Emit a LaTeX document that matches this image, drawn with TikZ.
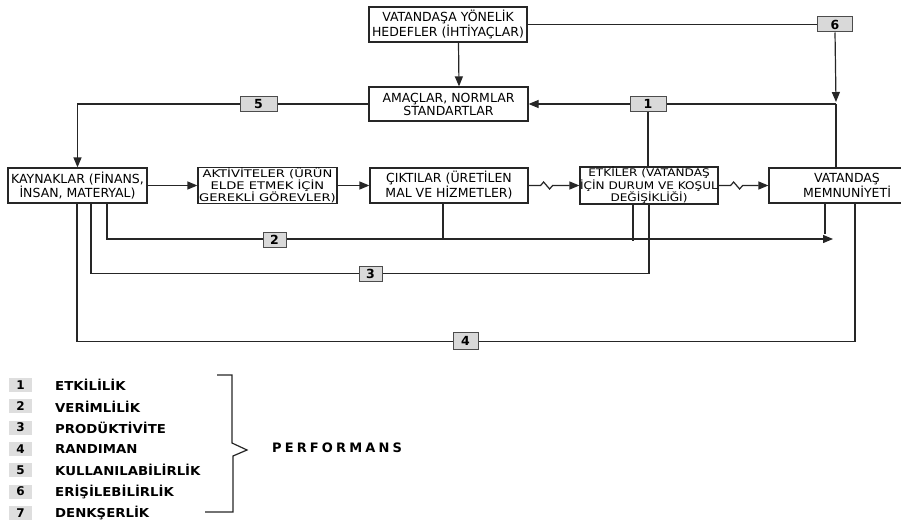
\documentclass[tikz,border=0pt]{standalone}
\usepackage{fontspec}
\setmainfont{DejaVu Sans}
\newfontfamily\aktfont[FakeStretch=1.25]{DejaVu Sans}
\newfontfamily\etkfont[FakeStretch=1.15]{DejaVu Sans}
\newfontfamily\legfont[FakeStretch=1.08]{DejaVu Sans}
\newfontfamily\perffont[LetterSpace=24]{DejaVu Sans}
\usetikzlibrary{arrows.meta,backgrounds,calc}
\begin{document}
\begin{tikzpicture}[x=1pt,y=-1pt,
  box/.style={draw=black!85, line width=1.2pt, fill=white, align=center, inner sep=0pt,
    minimum height=35pt, font=\fontsize{12.5}{13}\selectfont},
  boxakt/.style={box, font=\aktfont\fontsize{10.5}{10.5}\selectfont},
  boxetk/.style={box, font=\etkfont\fontsize{10.5}{10.5}\selectfont},
  num/.style={draw=black!70, fill=black!15, line width=1pt, inner sep=0pt,
    minimum height=15pt, font=\bfseries\fontsize{12.5}{12.5}\selectfont},
  conn/.style={line width=1.2pt, draw=black!85},
  arr/.style={conn, -{Triangle[length=10pt,width=8pt]}},
  leg/.style={fill=black!13, minimum width=23pt, minimum height=14pt, inner sep=0pt,
    font=\bfseries\fontsize{12}{12}\selectfont},
  legt/.style={anchor=west, inner sep=0pt, font=\legfont\bfseries\fontsize{12.3}{12.3}\selectfont}
]
\useasboundingbox (0,0) rectangle (901,524);
\clip (0,0) rectangle (901,524);

% boxes
\node[box, minimum width=158pt] (vat) at (448,24.5) {VATANDAŞA YÖNELİK\\HEDEFLER (İHTİYAÇLAR)};
\node[box, minimum width=159pt, minimum height=34pt] (ama) at (448.5,104) {AMAÇLAR, NORMLAR\\STANDARTLAR};
\node[box, minimum width=139pt] (kay) at (77.5,185.5) {KAYNAKLAR (FİNANS,\\İNSAN, MATERYAL)};
\node[boxakt, minimum width=139pt] (akt) at (267.5,185.5) {AKTİVİTELER (ÜRÜN\\ELDE ETMEK İÇİN\\GEREKLİ GÖREVLER)};
\node[box, minimum width=158pt] (cik) at (449,185.5) {ÇIKTILAR (ÜRETİLEN\\MAL VE HİZMETLER)};
\node[boxetk, minimum width=138pt] (etk) at (649,185.5) {ETKİLER (VATANDAŞ\\İÇİN DURUM VE KOŞUL\\DEĞİŞİKLİĞİ)};
\node[box, minimum width=156pt] (mem) at (847,185.5) {VATANDAŞ\\MEMNUNİYETİ};

% number labels
\node[num, minimum width=35pt] (l6) at (835,24.5) {6};
\node[num, minimum width=36pt] (l1) at (648,104) {1};
\node[num, minimum width=37pt] (l5) at (258.5,104) {5};
\node[num, minimum width=23pt, minimum height=15pt] (l2) at (274.5,240) {2};
\node[num, minimum width=23pt, minimum height=15pt] (l3) at (370.5,274) {3};
\node[num, minimum width=25pt, minimum height=17pt] (l4) at (465.5,341) {4};

\coordinate (j) at (836,104);
\coordinate (e2) at (833,239);

\begin{scope}[on background layer]
\draw[arr] ([xshift=10.5pt]vat.south) -- ([xshift=10.5pt]ama.north);
\draw[conn] (vat.east) -- (vat.east -| l6.west);
\draw[arr] (l6.south) -- ($(j)+(0,-2)$);
\draw[arr] (j) -- (ama.east);
\draw[conn] (j) -- (j |- mem.north);
\draw[conn] (etk.north -| l1) -- (l1);
\draw[arr] (ama.west) -| (kay.north);
\draw[arr] (kay) -- (akt);
\draw[arr] (akt) -- (cik);
\draw[arr] (cik.east) -- ++(12,0) -- ++(3,-3.5) -- ++(6,7) -- ++(3,-3.5) -- (etk.west);
\draw[arr] (etk.east) -- ++(12,0) -- ++(3,-3.5) -- ++(6,7) -- ++(3,-3.5) -- (mem.west);
\draw[arr] ([xshift=29.5pt]kay.south) |- (e2);
\draw[conn] ([xshift=-6pt]cik.south) -- ++(0,36);
\draw[conn] ([xshift=-16pt]etk.south) -- ++(0,36);
\draw[conn] ([xshift=-22pt]mem.south) -- ++(0,30);
\draw[conn] ([xshift=13.5pt]kay.south) -- ++(0,70) -| (etk.south);
\draw[conn] ([xshift=-0.5pt]kay.south) -- ++(0,138) -| ([xshift=8pt]mem.south);
\end{scope}

% legend
\node[leg] (n1) at (20.5,385) {1}; \node[legt] (t1) at (55,385) {ETKİLİLİK};
\node[leg] (n2) at (20.5,406.3) {2}; \node[legt] (t2) at (55,406.3) {VERİMLİLİK};
\node[leg] (n3) at (20.5,427.6) {3}; \node[legt] (t3) at (55,427.6) {PRODÜKTİVİTE};
\node[leg] (n4) at (20.5,448.9) {4}; \node[legt] (t4) at (55,448.9) {RANDIMAN};
\node[leg] (n5) at (20.5,470.2) {5}; \node[legt] (t5) at (55,470.2) {KULLANILABİLİRLİK};
\node[leg] (n6) at (20.5,491.5) {6}; \node[legt] (t6) at (55,491.5) {ERİŞİLEBİLİRLİK};
\node[leg] (n7) at (20.5,512.8) {7}; \node[legt] (t7) at (55,512.8) {DENKŞERLİK};

\draw[conn] (217,375) -- (232,375) -- (232,443) -- (247,450) -- (233,456) -- (233,512) -- (205,512);
\node[anchor=west, inner sep=0pt, font=\perffont\bfseries\fontsize{13}{13}\selectfont] (perf) at (272,448) {PERFORMANS};
\end{tikzpicture}
\end{document}
